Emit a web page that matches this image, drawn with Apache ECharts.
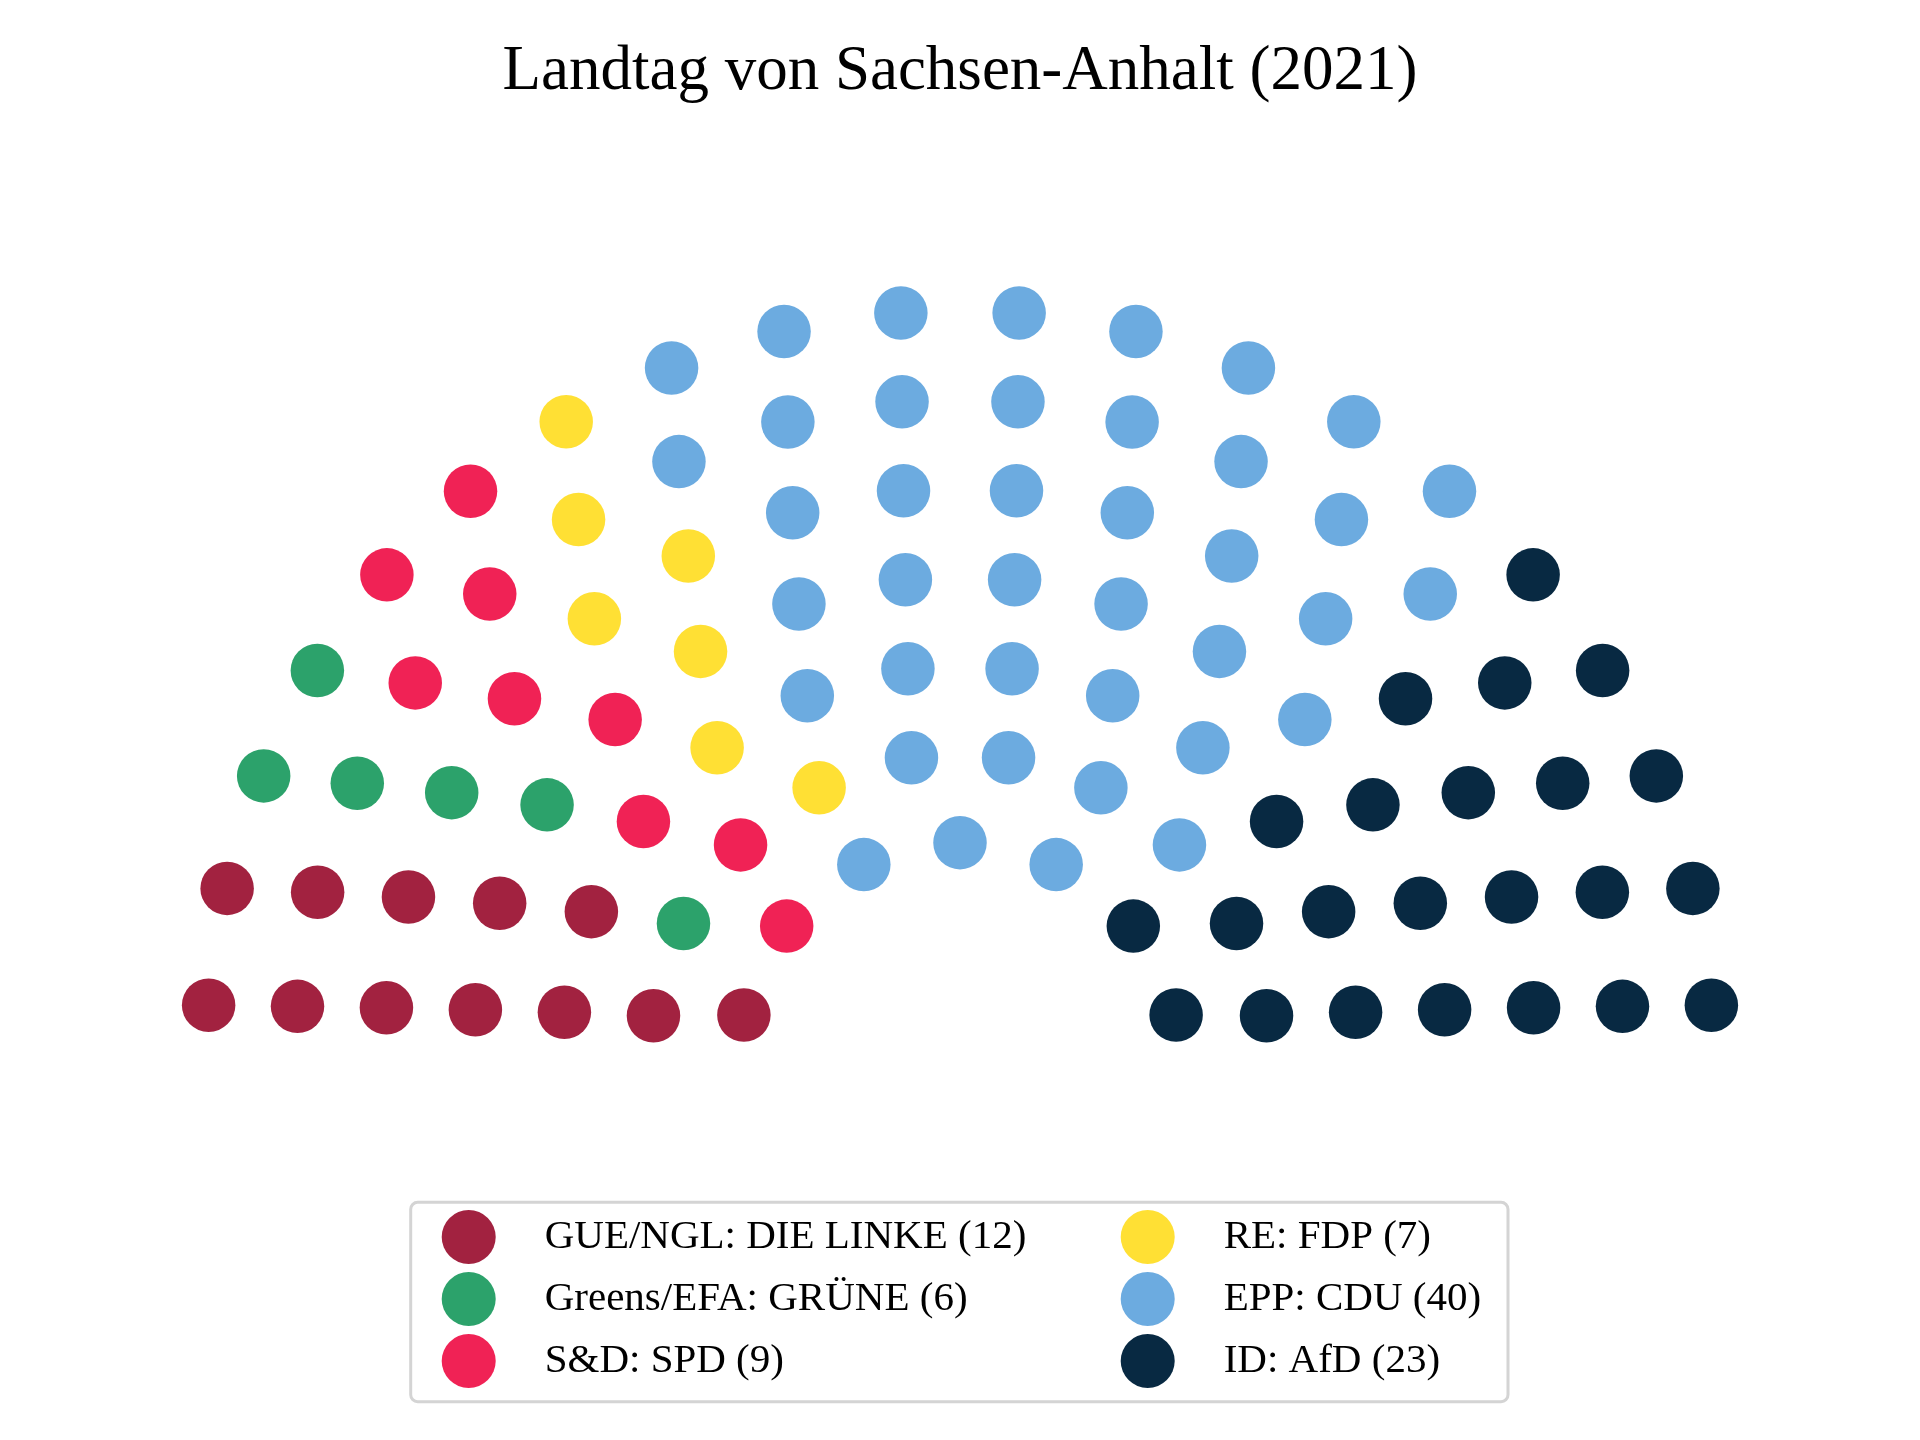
<!DOCTYPE html>
<html><head><meta charset="utf-8">
<script src="https://cdn.jsdelivr.net/npm/echarts@6/dist/echarts.min.js"></script>
<style>html,body{margin:0;padding:0;background:#fff}#c{width:1920px;height:1440px}</style>
</head><body><div id="c"></div>
<script>
// ---- data ----
const chartTitle = 'Landtag von Sachsen-Anhalt (2021)';
const parties = ['GUE/NGL: DIE LINKE', 'Greens/EFA: GRÜNE', 'S&D: SPD', 'RE: FDP', 'EPP: CDU', 'ID: AfD'];
const seats = [12, 6, 9, 7, 40, 23];
const rowSeats = [7, 10, 12, 14, 16, 18, 20]; // seats per row, inner to outer
const colors = ['#A22240', '#2CA26B', '#F02255', '#FFE034', '#6CABE0', '#082942'];

// ---- layout: seats on concentric semicircles, ordered by angle ----
const FIRST_ROW_RADIUS = 2.5; // in row-spacing units
const allSeats = [];
rowSeats.forEach((n, k) => {
  const r = FIRST_ROW_RADIUS + k;
  for (let i = 0; i < n; i++) allSeats.push({ r: r, a: (i + 0.5) * 180 / n });
});
allSeats.sort((p, q) => Math.abs(p.a - q.a) > 1e-9 ? p.a - q.a : p.r - q.r);
let pos = 0;
const seatData = seats.map(cnt => {
  const pts = allSeats.slice(pos, pos + cnt);
  pos += cnt;
  return pts.map(s => [-s.r * Math.cos(s.a * Math.PI / 180), s.r * Math.sin(s.a * Math.PI / 180)]);
});
const names = parties.map((p, i) => p + ' (' + seats[i] + ')');

const FONT = "'Liberation Serif', 'DejaVu Serif', serif";
const chart = echarts.init(document.getElementById('c'), null, { renderer: 'canvas' });
const legendCommon = {
  orient: 'vertical', top: 1210, itemWidth: 54, itemHeight: 54, itemGap: 8,
  icon: 'circle', padding: 0, selectedMode: false,
  textStyle: { fontFamily: FONT, fontSize: 41, color: '#000', padding: [4, 0, 0, 44] }
};
chart.setOption({
  animation: false,
  backgroundColor: '#fff',
  title: {
    text: chartTitle, left: 'center', top: 41, padding: 0,
    textStyle: { fontFamily: FONT, fontSize: 63, fontWeight: 'normal', color: '#000' }
  },
  grid: { left: 73.3, width: 1773.4, top: 266.3, height: 886.7, outerBoundsMode: 'none' },
  xAxis: { type: 'value', min: -10, max: 10, show: false },
  yAxis: { type: 'value', min: -1, max: 9, show: false },
  legend: [
    Object.assign({}, legendCommon, { left: 441.7, data: names.slice(0, 3) }),
    Object.assign({}, legendCommon, { left: 1120.7, data: names.slice(3) })
  ],
  graphic: [{
    type: 'rect', z: -10, silent: true,
    shape: { x: 410.7, y: 1202.3, width: 1097.3, height: 199.4, r: 7 },
    style: { fill: '#fff', stroke: '#d4d4d4', lineWidth: 3 }
  }],
  series: names.map((nm, i) => ({
    type: 'scatter', name: nm, data: seatData[i],
    symbol: 'circle', symbolSize: 53.5,
    itemStyle: { color: colors[i], opacity: 1 },
    emphasis: { disabled: true }
  }))
});
</script></body></html>
